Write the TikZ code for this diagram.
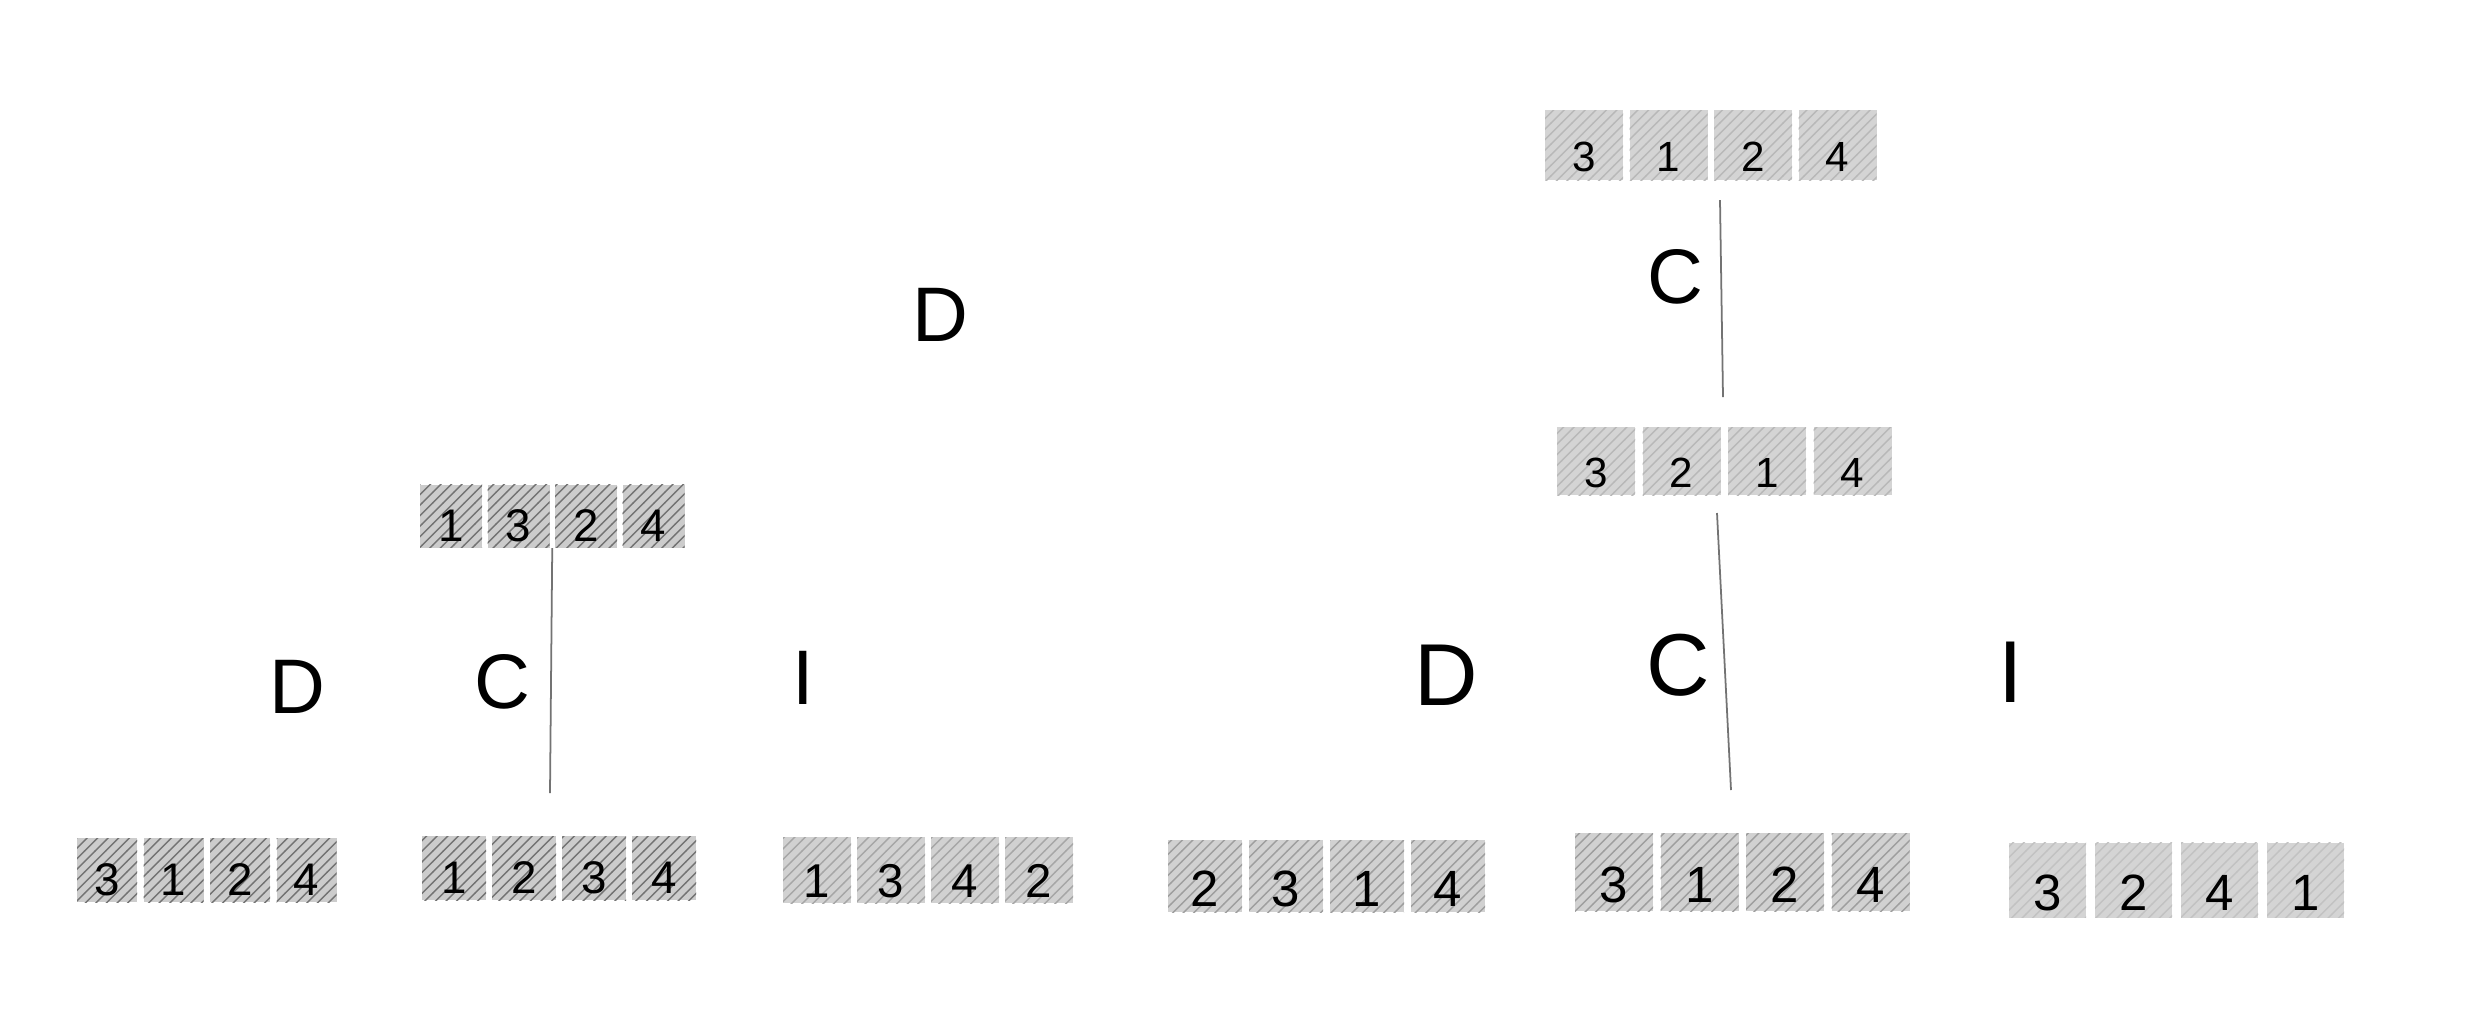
\documentclass[tikz,border=0pt]{standalone}
\usepackage{fontspec}
\setmainfont{Liberation Sans}
\usetikzlibrary{patterns,calc}
\tikzset{
  cellL/.style={draw=none, fill=black!20, inner sep=0pt, font=\fontsize{13}{13}\selectfont,
    text height=0.51cm, text depth=0pt,
    postaction={pattern=north east lines, pattern color=black!55}},
  cellD/.style={draw=none, fill=black!18, inner sep=0pt, font=\fontsize{13.5}{13.5}\selectfont,
    text height=0.55cm, text depth=0pt,
    postaction={pattern=north east lines, pattern color=black!35}},
  cellM/.style={draw=none, fill=black!18, inner sep=0pt, font=\fontsize{14.5}{14.5}\selectfont,
    text height=0.61cm, text depth=0pt,
    postaction={pattern=north east lines, pattern color=black!38}},
  cellR/.style={draw=none, fill=black!17, inner sep=0pt, font=\fontsize{12}{12}\selectfont,
    text height=0.53cm, text depth=0pt,
    postaction={pattern=north east lines, pattern color=black!28}},
  cellG/.style={draw=none, fill=black!17, inner sep=0pt, font=\fontsize{14.5}{14.5}\selectfont,
    text height=0.61cm, text depth=0pt,
    postaction={pattern=north east lines, pattern color=black!24}},
  opS/.style={inner sep=0pt, font=\fontsize{22}{22}\selectfont},
  opL/.style={inner sep=0pt, font=\fontsize{25}{25}\selectfont},
  link/.style={draw=black!55, line width=0.5pt}
}
\newcommand\cellrow[8]{%
  \foreach [count=\i] \d in {#7} {
    \node[#8, minimum width=#4*0.01cm, minimum height=#5*0.01cm] (#1-\i)
      at ({#2+(\i-1)*#6+#4/2}, #3) {\d};
  }%
}
\begin{document}
\begin{tikzpicture}[x=0.01cm, y=-0.01cm]
\useasboundingbox[fill=white] (0,0) rectangle (2484,1020);

% arrays
\cellrow{A}{420}{516}{62}{63}{67.5}{1,3,2,4}{cellL}
\cellrow{B}{77}{870}{60}{64}{66.5}{3,1,2,4}{cellL}
\cellrow{C}{422}{868}{64}{64}{70}{1,2,3,4}{cellL}
\cellrow{D}{783}{870}{68}{66}{74}{1,3,4,2}{cellD}
\cellrow{E}{1168}{876}{74}{72}{81}{2,3,1,4}{cellM}
\cellrow{F}{1575}{872}{78}{78}{85.5}{3,1,2,4}{cellM}
\cellrow{G}{2009}{880}{77}{75}{86}{3,2,4,1}{cellG}
\cellrow{H}{1545}{145}{78}{70}{84.5}{3,1,2,4}{cellR}
\cellrow{I}{1557}{461}{78}{68}{85.5}{3,2,1,4}{cellR}

% operation letters
\node[opS] (Dtop) at (940,315) {D};
\node[opS] (Dl) at (297,687) {D};
\node[opS] (Cl) at (502,682) {C};
\node[opS] (Il) at (803,678) {I};
\node[opS] (Ctop) at (1675,277) {C};
\node[opL] (Dr) at (1446,675) {D};
\node[opL] (Cr) at (1678,665) {C};
\node[opL] (Ir) at (2011,672) {I};

% split lines
\coordinate (l1e) at (550,793);
\coordinate (l2s) at (1720,200);
\coordinate (l2e) at (1723,397);
\coordinate (l3s) at (1717,513);
\coordinate (l3e) at (1731,790);
\draw[link] ($(A-2.south east)!0.5!(A-3.south west)$) -- (l1e);
\draw[link] (l2s) -- (l2e);
\draw[link] (l3s) -- (l3e);
\end{tikzpicture}
\end{document}
